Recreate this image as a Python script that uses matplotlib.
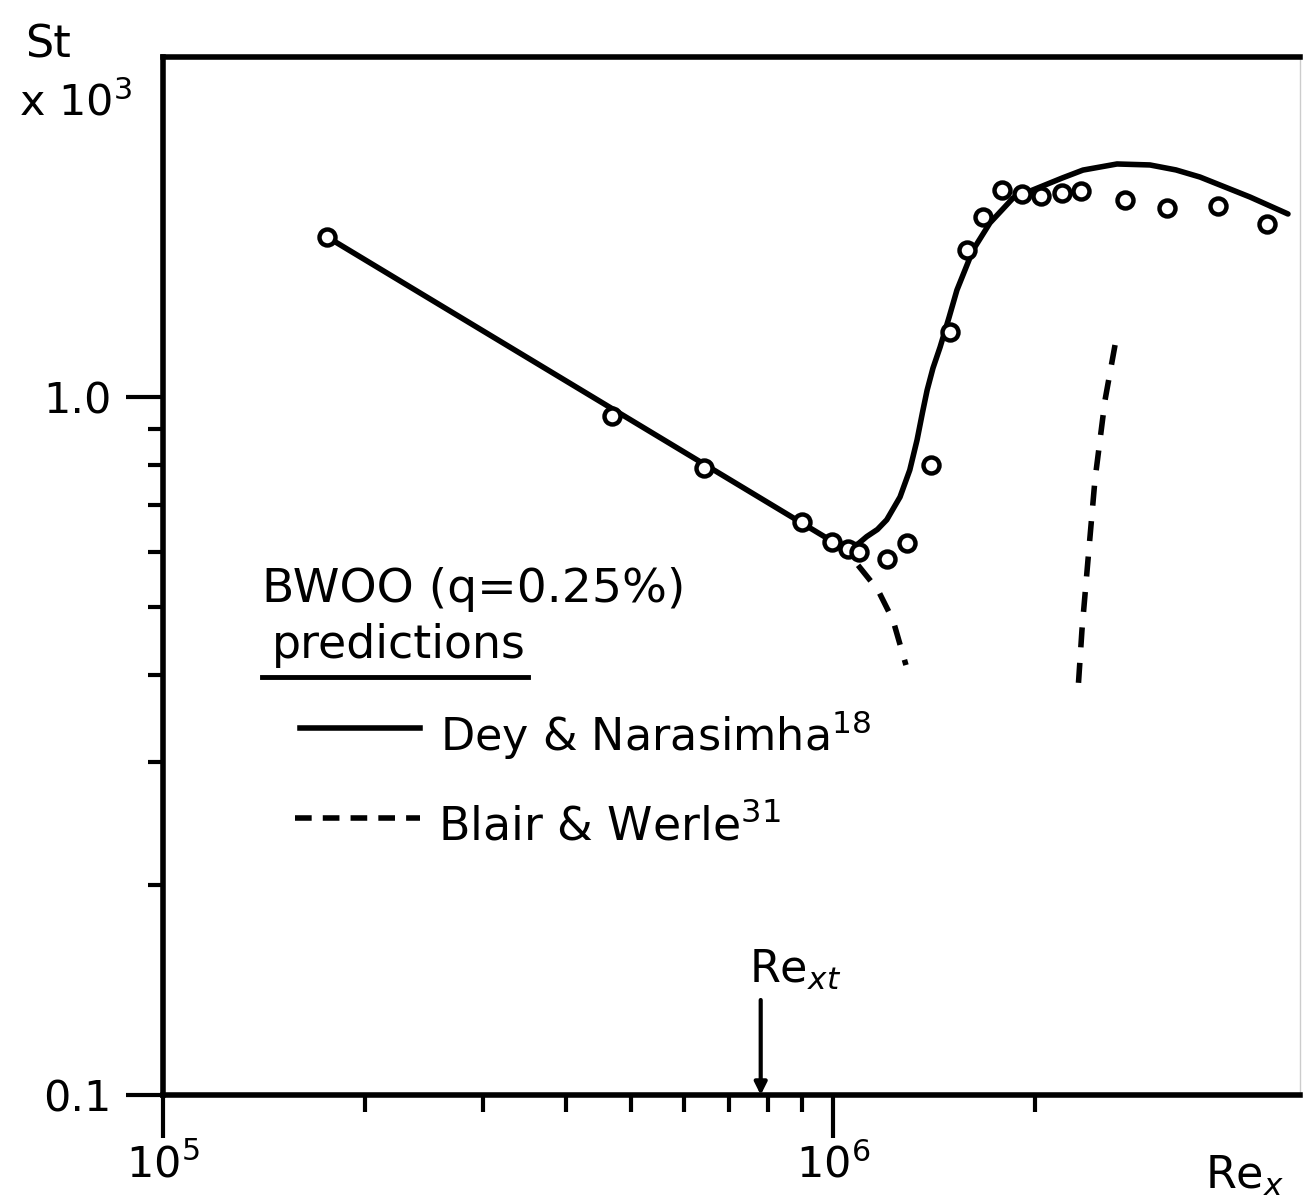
import matplotlib
matplotlib.use("Agg")
import matplotlib.pyplot as plt
from matplotlib.ticker import FixedLocator, NullFormatter
from matplotlib.lines import Line2D

# ---- data (St x 10^3 vs Re_x) ----
exp_re = [1.755e5, 4.674e5, 6.42e5, 8.98e5, 9.95e5, 1.054e6, 1.095e6, 1.205e6,
          1.288e6, 1.401e6, 1.495e6, 1.584e6, 1.673e6, 1.786e6, 1.913e6, 2.042e6,
          2.194e6, 2.345e6, 2.728e6, 3.148e6, 3.759e6, 4.440e6]
exp_st = [1.697, 0.940, 0.790, 0.662, 0.620, 0.606, 0.600, 0.586,
          0.617, 0.799, 1.238, 1.624, 1.809, 1.980, 1.953, 1.941,
          1.958, 1.975, 1.915, 1.864, 1.878, 1.770]

dn_re = [1.755e5, 9.95e5, 1.053e6, 1.090e6, 1.123e6, 1.165e6, 1.203e6, 1.259e6,
         1.302e6, 1.335e6, 1.360e6, 1.382e6, 1.410e6, 1.445e6, 1.490e6, 1.531e6,
         1.618e6, 1.715e6, 1.857e6, 2.037e6, 2.200e6, 2.361e6, 2.654e6, 2.972e6,
         3.250e6, 3.530e6, 4.193e6, 4.776e6]
dn_st = [1.697, 0.622, 0.610, 0.616, 0.631, 0.646, 0.667, 0.719,
         0.786, 0.868, 0.950, 1.023, 1.100, 1.179, 1.300, 1.423,
         1.624, 1.776, 1.928, 1.999, 2.060, 2.114, 2.157, 2.150,
         2.115, 2.066, 1.934, 1.829]

bw1_re = [1.090e6, 1.167e6, 1.229e6, 1.285e6]
bw1_st = [0.574, 0.529, 0.479, 0.413]
bw2_re = [2.636e6, 2.547e6, 2.460e6, 2.402e6, 2.353e6, 2.321e6]
bw2_st = [1.187, 0.990, 0.760, 0.584, 0.464, 0.380]

rext = 7.8e5

x_major = [1e5, 1e6]
x_major_labels = [r'$10^5$', r'$10^6$']
x_minor = [2e5, 3e5, 4e5, 5e5, 6e5, 7e5, 8e5, 9e5, 2e6]
y_major = [0.1, 1.0]
y_major_labels = ['0.1', '1.0']
y_minor = [0.2, 0.3, 0.4, 0.5, 0.6, 0.7, 0.8, 0.9]

W, H = 1306, 1204
def fx(px):
    return px / W
def fy(py):
    return 1 - py / H

plt.rcParams['font.family'] = ['DejaVu Sans']
fig = plt.figure(figsize=(W / 100, H / 100), dpi=100)
ax = fig.add_axes([fx(163), fy(1095), (1300 - 163) / W, (1095 - 57) / H])
ax.set_xscale('log')
ax.set_yscale('log')
ax.set_xlim(1e5, 10 ** (5 + 1137 / 670))
ax.set_ylim(0.1, 10 ** ((397 - 57) / 698))

lw = 4.0
dash = (0, (3.6, 2.8))
ax.plot(dn_re, dn_st, color='black', lw=lw, solid_capstyle='round',
        solid_joinstyle='round', zorder=2)
ax.plot(bw1_re, bw1_st, color='black', lw=lw, linestyle=dash, zorder=2)
ax.plot(bw2_re, bw2_st, color='black', lw=lw, linestyle=dash, zorder=2)
ax.plot(exp_re, exp_st, linestyle='none', marker='o', ms=11.5, mew=3.2,
        mfc='white', mec='black', zorder=3)

# ticks
ax.set_xticks(x_major, x_major_labels)
ax.xaxis.set_minor_locator(FixedLocator(x_minor))
ax.xaxis.set_minor_formatter(NullFormatter())
ax.set_yticks(y_major, y_major_labels)
ax.yaxis.set_minor_locator(FixedLocator(y_minor))
ax.yaxis.set_minor_formatter(NullFormatter())
ax.tick_params(axis='x', which='major', direction='out', length=31, width=3,
               labelsize=31, pad=4)
ax.tick_params(axis='x', which='minor', direction='out', length=12, width=3)
ax.tick_params(axis='y', which='major', direction='out', length=27, width=3,
               labelsize=31, pad=10)
ax.tick_params(axis='y', which='minor', direction='out', length=11, width=3)

for s in ['left', 'bottom', 'top']:
    ax.spines[s].set_linewidth(4.0)
ax.spines['right'].set_linewidth(1.0)
ax.spines['right'].set_color('#cccccc')

# axis titles
fig.text(fx(48), fy(45), 'St', fontsize=32, ha='center', va='center')
fig.text(fx(75), fy(103), r'x 10$^3$', fontsize=31, ha='center', va='center')
fig.text(fx(1245), fy(1176), r'Re$_x$', fontsize=32, ha='center', va='center')

# Re_xt arrow
ax.annotate('', xy=(rext, 0.1), xytext=(rext, 10 ** ((397 - 1000) / 698)),
            arrowprops=dict(arrowstyle='-|>', lw=3, color='black',
                            mutation_scale=18, shrinkA=0, shrinkB=0))
fig.text(fx(795), fy(970), r'Re$_{xt}$', fontsize=32, ha='center', va='center')

# legend block
fig.text(fx(262), fy(590), 'BWOO (q=0.25%)', fontsize=34, ha='left', va='center')
fig.text(fx(272), fy(645), 'predictions', fontsize=33, ha='left', va='center')
fig.add_artist(Line2D([fx(262), fx(528)], [fy(677), fy(677)], color='black', lw=3.5))
fig.add_artist(Line2D([fx(300), fx(420)], [fy(728), fy(728)], color='black', lw=lw))
fig.text(fx(440), fy(735), r'Dey & Narasimha$^{18}$', fontsize=32, ha='left', va='center')
fig.add_artist(Line2D([fx(295), fx(420)], [fy(818), fy(818)], color='black', lw=lw,
                      linestyle=(0, (3, 2))))
fig.text(fx(438), fy(826), r'Blair & Werle$^{31}$', fontsize=33, ha='left', va='center')

fig.savefig('out.png', dpi=100, facecolor='white')
